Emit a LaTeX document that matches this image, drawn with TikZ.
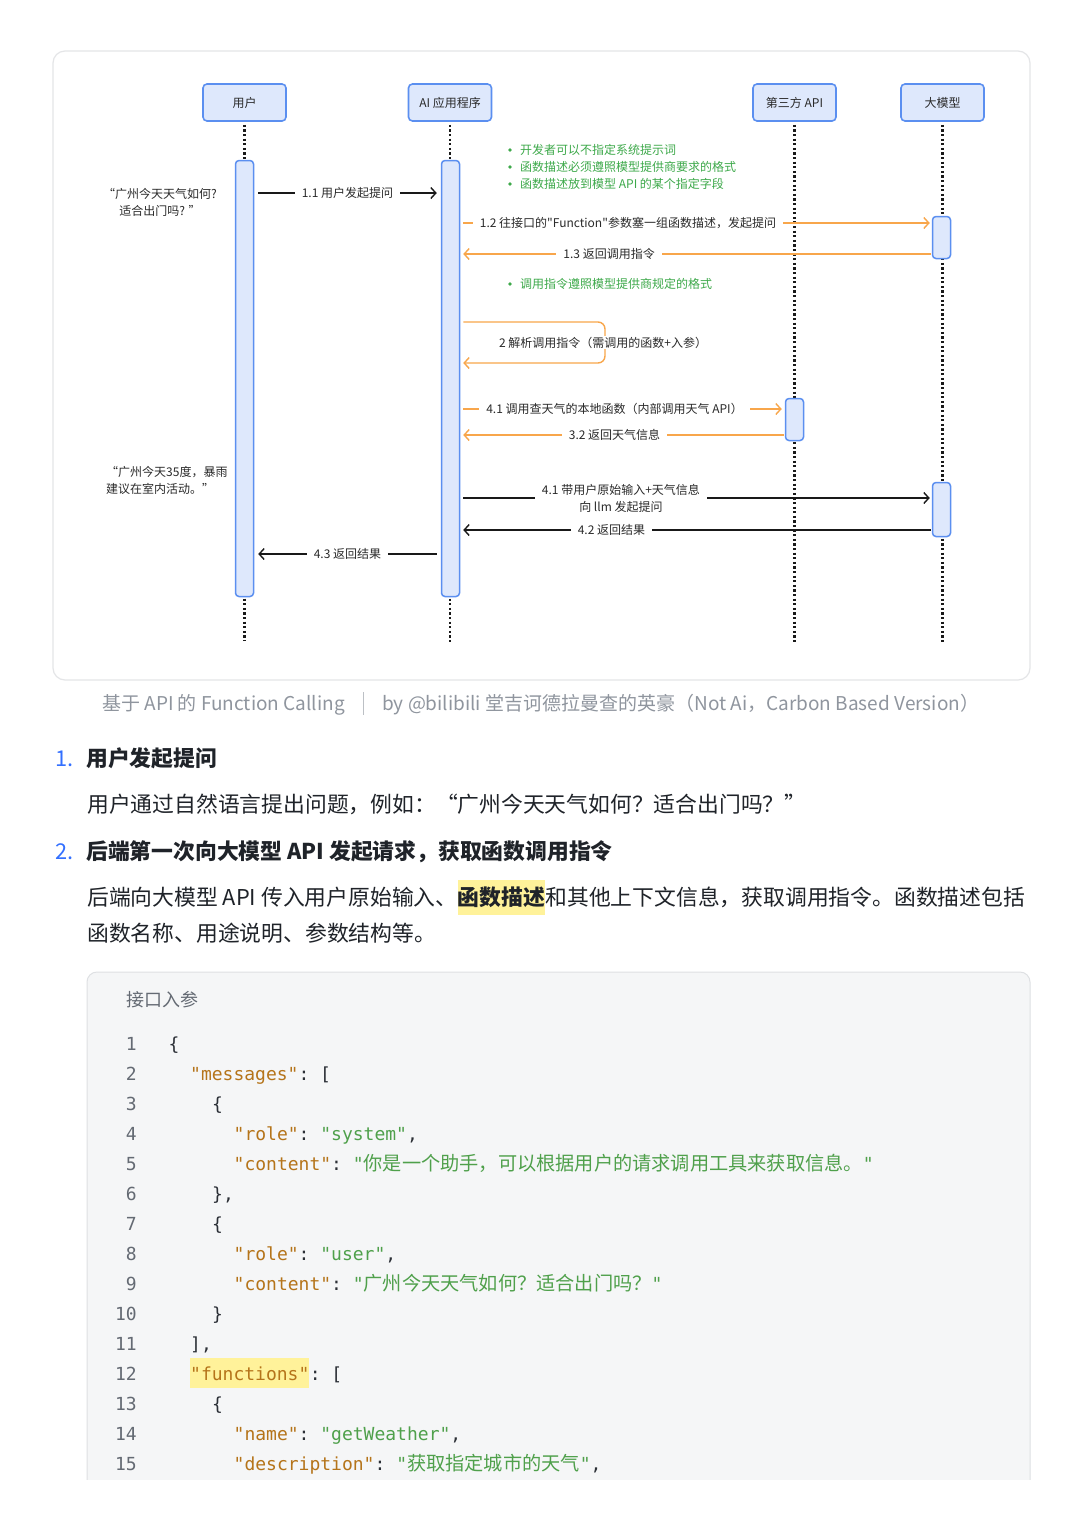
\documentclass[tikz,border=0pt]{standalone}
\usepackage{fontspec}
\setmainfont{Noto Sans CJK SC}[Ligatures=TeXOff]
\newfontfamily\codefont{DejaVu Sans Mono}[Ligatures=TeXOff]
\usetikzlibrary{arrows.meta,calc}
\definecolor{bfill}{HTML}{DEE8FC}
\definecolor{bdraw}{HTML}{5B8FF0}
\definecolor{orng}{HTML}{F8A64B}
\definecolor{grn}{HTML}{3DA94A}
\definecolor{txt}{HTML}{2A2A2A}
\definecolor{framec}{HTML}{E4E5E7}
\definecolor{capc}{HTML}{8F959E}
\definecolor{headc}{HTML}{1F2329}
\definecolor{numc}{HTML}{3370FF}
\definecolor{codebg}{HTML}{F5F6F7}
\definecolor{codebd}{HTML}{DEE0E3}
\definecolor{lnc}{HTML}{646A73}
\definecolor{keyc}{HTML}{B5741A}
\definecolor{strc}{HTML}{4FA04B}
\definecolor{punc}{HTML}{2B2F36}
\definecolor{hl}{HTML}{FFF29A}
\newcommand\diafont{\fontsize{12}{17}\selectfont}
\newcommand\parafont{\fontsize{21.8}{26}\selectfont}
\newcommand\cfont{\codefont\fontsize{18}{20}\selectfont\frenchspacing}
\newcommand\ckey[1]{{\color{keyc}#1}}
\newcommand\cstr[1]{{\color{strc}#1}}
\newcommand\czh[1]{{\rmfamily\fontsize{19.2}{20}\selectfont #1}}
\tikzset{
  part/.style={draw=bdraw, fill=bfill, line width=1.6pt, rounded corners=4pt, minimum width=83pt, minimum height=37pt, inner sep=0pt, font=\diafont, text=txt},
  actbar/.style={draw=bdraw, fill=bfill, line width=1.5pt, rounded corners=3.5pt, minimum width=18pt, inner sep=0pt},
  life/.style={line width=2.1pt, dash pattern=on 2.2pt off 2.4pt, draw=black!90},
  blk/.style={line width=1.4pt, draw=black!90, -{Straight Barb[length=5pt,width=11pt]}},
  org/.style={line width=1.4pt, draw=orng, -{Straight Barb[length=5pt,width=11pt]}},
  lbl/.style={fill=white, inner xsep=7pt, inner ysep=1pt, font=\diafont, text=txt},
  note/.style={inner sep=0pt, font=\diafont, text=txt},
  gnote/.style={anchor=west, inner sep=0pt, font=\diafont, text=grn},
  captxt/.style={anchor=base west, inner sep=0pt, font=\fontsize{19}{22}\selectfont, text=capc},
  para/.style={anchor=base west, inner sep=0pt, font=\parafont, text=headc},
  head/.style={anchor=base west, inner sep=0pt, font=\parafont\bfseries, text=headc},
  hnum/.style={anchor=base west, inner sep=0pt, font=\parafont, text=numc},
  code/.style={anchor=base west, inner sep=0pt, font=\cfont, text=punc},
  lnum/.style={anchor=base east, inner sep=0pt, font=\cfont, text=lnc},
}
\begin{document}
\begin{tikzpicture}[x=1pt,y=-1pt]
\useasboundingbox (0,0) rectangle (1080,1527);
\fill[white] (0,0) rectangle (1080,1527);

% frame
\draw[framec, line width=1.2pt, rounded corners=12pt] (53,51) rectangle (1030,680);

% participants
\node[part] (pu) at (244.5,102.5) {用户};
\node[part] (pa) at (450,102.5) {AI 应用程序};
\node[part] (pt) at (794.5,102.5) {第三方 API};
\node[part] (pm) at (942.5,102.5) {大模型};

% lifeline ends
\coordinate (eu) at (244.5,641);
\coordinate (ea) at (450,643);
\coordinate (et) at (794.5,643);
\coordinate (em) at (942.5,643);
\draw[life] ([yshift=-3pt]pu.south) -- (eu);
\draw[life] ([yshift=-3pt]pa.south) -- (ea);
\draw[life] ([yshift=-3pt]pt.south) -- (et);
\draw[life] ([yshift=-3pt]pm.south) -- (em);

% activation bars
\node[actbar, minimum height=436pt] (au) at (244.5,378.5) {};
\node[actbar, minimum height=436pt] (aa) at (450.5,378.5) {};
\node[actbar, minimum height=42pt] (at3) at (794.5,419.5) {};
\node[actbar, minimum height=42pt] (am1) at (941.5,237.5) {};
\node[actbar, minimum height=54pt] (am2) at (941.5,509.5) {};

% message rows
\coordinate (y11) at (0,193);
\coordinate (y12) at (0,223);
\coordinate (y13) at (0,254);
\coordinate (y2a) at (0,322);
\coordinate (y2b) at (0,363);
\coordinate (y41) at (0,409);
\coordinate (y32) at (0,435);
\coordinate (y41b) at (0,498);
\coordinate (y42) at (0,530);
\coordinate (y43) at (0,554);
\coordinate (loopx) at (605,342.5);

% green notes
\foreach \yy/\tx [count=\i] in {150/开发者可以不指定系统提示词, 167/函数描述必须遵照模型提供商要求的格式, 184/函数描述放到模型 API 的某个指定字段, 284/调用指令遵照模型提供商规定的格式}{
  \fill[grn] (510,\yy) circle (1.8pt);
  \node[gnote] (g\i) at (520,\yy) {\tx};
}

% left notes
\node[note, align=center] (nq) at (160,202.5) {“广州今天天气如何?\\适合出门吗? ”};
\node[note, align=left, anchor=west] (na) at (106,480.5) {“广州今天35度，暴雨\\建议在室内活动。”};

% messages
\draw[blk] ($(au.east|-y11)+(4,0)$) -- node[lbl]{1.1 用户发起提问} ($(aa.west|-y11)+(-4,0)$);
\draw[org] ($(aa.east|-y12)+(3,0)$) -- node[lbl,pos=.353]{1.2 往接口的"Function"参数塞一组函数描述，发起提问} ($(am1.west|-y12)+(-2,0)$);
\draw[org] ($(am1.west|-y13)+(-1,0)$) -- node[lbl,pos=.688]{1.3 返回调用指令} ($(aa.east|-y13)+(3,0)$);
\draw[org, rounded corners=7pt] ($(aa.east|-y2a)+(3,0)$) -| (loopx) |- ($(aa.east|-y2b)+(3,0)$);
\node[lbl] (l2) at ($(loopx)+(-2,0)$) {2 解析调用指令（需调用的函数+入参）};
\draw[org] ($(aa.east|-y41)+(3,0)$) -- node[lbl,pos=.475]{4.1 调用查天气的本地函数（内部调用天气 API）} ($(at3.west|-y41)+(-3,0)$);
\draw[org] ($(at3.west|-y32)+(-1,0)$) -- node[lbl,pos=.528]{3.2 返回天气信息} ($(aa.east|-y32)+(3,0)$);
\draw[blk] ($(aa.east|-y41b)+(3,0)$) -- node[lbl,pos=.338,align=center]{4.1 带用户原始输入+天气信息\\向 llm 发起提问} ($(am2.west|-y41b)+(-2,0)$);
\draw[blk] ($(am2.west|-y42)+(-1,0)$) -- node[lbl,pos=.683]{4.2 返回结果} ($(aa.east|-y42)+(3,0)$);
\draw[blk] ($(aa.west|-y43)+(-4,0)$) -- node[lbl]{4.3 返回结果} ($(au.east|-y43)+(4,0)$);

% caption
\node[captxt] (cap1) at (102,710) {基于 API 的 Function Calling};
\draw[capc!60, line width=1pt] (363,692) -- (363,715);
\node[captxt] (cap2) at (382,710) {by @bilibili 堂吉诃德拉曼查的英豪（Not Ai，Carbon Based Version）};

% sections
\node[hnum] (n1) at (55,766) {1.};
\node[head] (h1) at (86,766) {用户发起提问};
\node[para] (t1) at (87,812) {用户通过自然语言提出问题，例如：“广州今天天气如何？适合出门吗？”};
\node[hnum] (n2) at (55,859) {2.};
\node[head] (h2) at (86,859) {后端第一次向大模型 API 发起请求，获取函数调用指令};
\node[para] (p2a) at (87,905) {后端向大模型 API 传入用户原始输入、};
\node[head, fill=hl, text height=25pt, text depth=10pt] (p2b) at (p2a.base east) {函数描述};
\node[para] (p2c) at (p2b.base east) {和其他上下文信息，获取调用指令。函数描述包括};
\node[para] (p2d) at (87,941) {函数名称、用途说明、参数结构等。};

% code block
\draw[draw=codebd, fill=codebg, line width=1pt, rounded corners=10pt] (87,972) rectangle (1030,1520);
\fill[white] (80,1480) rectangle (1040,1527);
\node[anchor=base west, inner sep=0pt, font=\fontsize{18}{20}\selectfont, text=lnc] (ct) at (126,1006.5) {接口入参};

\foreach \n in {1,...,15}{
  \node[lnum] (ln\n) at (137,{1050.5+30*(\n-1)}) {\n};
}
\node[code] (c1) at (168.5,1050.5) {\{};
\node[code] (c2) at (190,1080.5) {\ckey{"messages"}: [};
\node[code] (c3) at (212,1110.5) {\{};
\node[code] (c4) at (233.5,1140.5) {\ckey{"role"}: \cstr{"system"},};
\node[code] (c5) at (233.5,1170.5) {\ckey{"content"}: \cstr{"\czh{你是一个助手，可以根据用户的请求调用工具来获取信息。}"}};
\node[code] (c6) at (212,1200.5) {\},};
\node[code] (c7) at (212,1230.5) {\{};
\node[code] (c8) at (233.5,1260.5) {\ckey{"role"}: \cstr{"user"},};
\node[code] (c9) at (233.5,1290.5) {\ckey{"content"}: \cstr{"\czh{广州今天天气如何？适合出门吗？}"}};
\node[code] (c10) at (212,1320.5) {\}};
\node[code] (c11) at (190,1350.5) {],};
\node[code, fill=hl, text height=22.5pt, text depth=7.5pt, text=keyc] (c12a) at (190,1380.5) {"functions"};
\node[code] (c12b) at (c12a.base east) {: [};
\node[code] (c13) at (212,1410.5) {\{};
\node[code] (c14) at (233.5,1440.5) {\ckey{"name"}: \cstr{"getWeather"},};
\node[code] (c15) at (233.5,1470.5) {\ckey{"description"}: \cstr{"\czh{获取指定城市的天气}"},};
\end{tikzpicture}
\end{document}
